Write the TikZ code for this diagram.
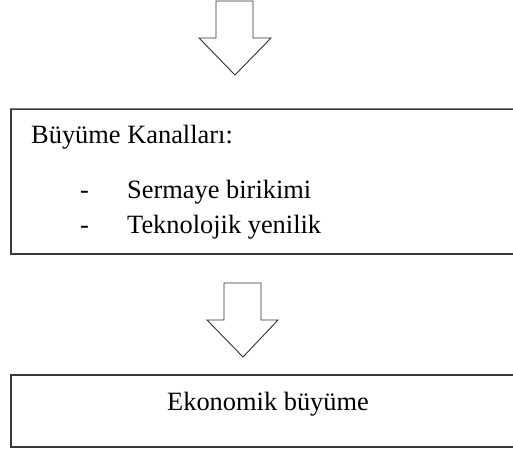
\documentclass[tikz,border=0pt]{standalone}
\usepackage{fontspec}
\setmainfont{Liberation Serif}
\begin{document}
\begin{tikzpicture}[x=1pt,y=-1pt,
  boxstyle/.style={draw=black!78, line width=1.2pt, rectangle, inner sep=0pt},
  arrowstyle/.style={draw=black!80, line width=0.9pt, fill=white, line join=miter},
  txt/.style={font=\fontsize{26.4pt}{30pt}\selectfont, inner sep=0pt, anchor=base west, text=black}]
\useasboundingbox (0,0) rectangle (513,452);
\fill[white] (0,0) rectangle (513,452);
% arrow 1
\draw[arrowstyle] (216,1) -- (253,1) -- (253,38) -- (271,38) -- (235,75) -- (199,38) -- (216,38) -- cycle;
% box 1
\node[boxstyle, minimum width=512pt, minimum height=145pt] (kanal) at (267,181.5) {};
\draw[black!50, line width=1.3pt] (kanal.north west) -- (kanal.north east);
\node[txt] (baslik) at (31,143) {Büyüme Kanalları:};
\node[txt] (d1) at (80,198) {-};
\node[txt] (s1) at (127,198) {Sermaye birikimi};
\node[txt] (d2) at (80,233) {-};
\node[txt] (s2) at (127,233) {Teknolojik yenilik};
% arrow 2
\draw[arrowstyle] (224,283) -- (261,283) -- (261,320) -- (278,320) -- (243,357) -- (207,320) -- (224,320) -- cycle;
% box 2
\node[boxstyle, minimum width=512pt, minimum height=72pt] (sonuc) at (267,411) {};
\node[txt] (eko) at (167,410) {Ekonomik büyüme};
\end{tikzpicture}
\end{document}
